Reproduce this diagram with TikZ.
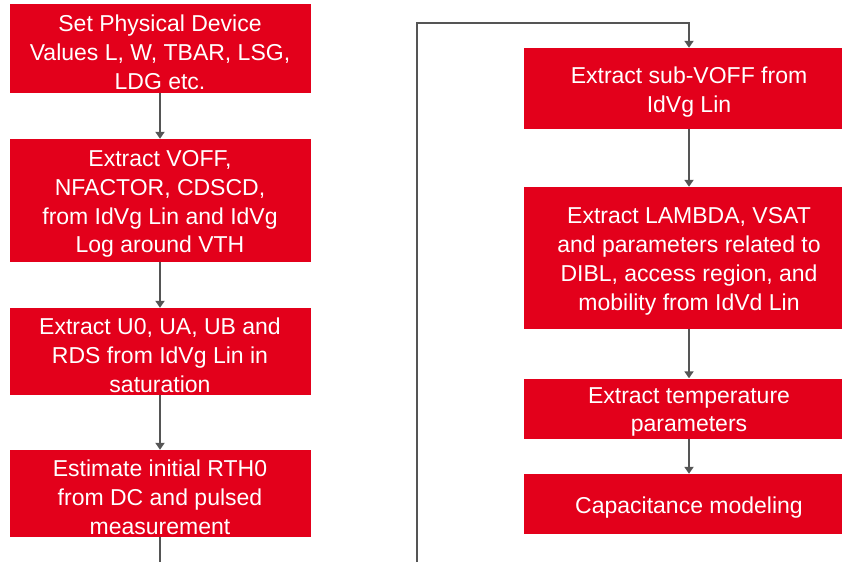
\documentclass[tikz,border=0pt]{standalone}
\usepackage{fontspec}
\setmainfont{Liberation Sans}
\usetikzlibrary{arrows.meta}
\definecolor{boxred}{RGB}{227,0,27}
\definecolor{arrowgray}{RGB}{85,85,85}
\tikzset{
  stepbox/.style={fill=boxred, draw=none, inner sep=0pt},
  boxtext/.style={text=white, align=center, inner sep=0pt, yshift=-3.5pt,
    font=\fontsize{23}{28.8}\selectfont},
  flow/.style={draw=arrowgray, line width=2.2pt, -{Triangle[width=9pt,length=7pt]}},
  plainflow/.style={draw=arrowgray, line width=2.2pt}
}
\begin{document}
\begin{tikzpicture}[x=1pt,y=-1pt]
\useasboundingbox (0,0) rectangle (842,562);
\clip (0,0) rectangle (842,562);
% left column
\node[stepbox, minimum width=301pt, minimum height=89pt,
  label={[boxtext]center:{Set Physical Device\\Values L, W, TBAR, LSG,\\LDG etc.}}] (L1) at (160,48.5) {};
\node[stepbox, minimum width=301pt, minimum height=123pt,
  label={[boxtext]center:{Extract VOFF,\\NFACTOR, CDSCD,\\from IdVg Lin and IdVg\\Log around VTH}}] (L2) at (160,200.5) {};
\node[stepbox, minimum width=301pt, minimum height=87pt,
  label={[boxtext]center:{Extract U0, UA, UB and\\RDS from IdVg Lin in\\saturation}}] (L3) at (160,351.5) {};
\node[stepbox, minimum width=301pt, minimum height=87pt,
  label={[boxtext]center:{Estimate initial RTH0\\from DC and pulsed\\measurement}}] (L4) at (160,493.5) {};
% right column
\node[stepbox, minimum width=330pt, minimum height=81pt,
  label={[boxtext]center:{Extract sub-VOFF from\\IdVg Lin}}] (R1) at (689,88.5) {};
\node[stepbox, minimum width=330pt, minimum height=142pt,
  label={[boxtext]center:{Extract LAMBDA, VSAT\\and parameters related to\\DIBL, access region, and\\mobility from IdVd Lin}}] (R2) at (689,258) {};
\node[stepbox, minimum width=330pt, minimum height=60pt,
  label={[boxtext]center:{Extract temperature\\parameters}}] (R3) at (689,408.5) {};
\node[stepbox, minimum width=330pt, minimum height=60pt,
  label={[boxtext]center:{Capacitance modeling}}] (R4) at (689,504) {};
% connectors
\coordinate (Lend) at (160,562);
\coordinate (Rstart) at (417,562);
\coordinate (Rtop) at (417,23);
\draw[flow] (L1.south) -- (L2.north);
\draw[flow] (L2.south) -- (L3.north);
\draw[flow] (L3.south) -- (L4.north);
\draw[plainflow] (L4.south) -- (Lend);
\draw[flow] (Rstart) -- (Rtop) -| (R1.north);
\draw[flow] (R1.south) -- (R2.north);
\draw[flow] (R2.south) -- (R3.north);
\draw[flow] (R3.south) -- (R4.north);
\end{tikzpicture}
\end{document}
